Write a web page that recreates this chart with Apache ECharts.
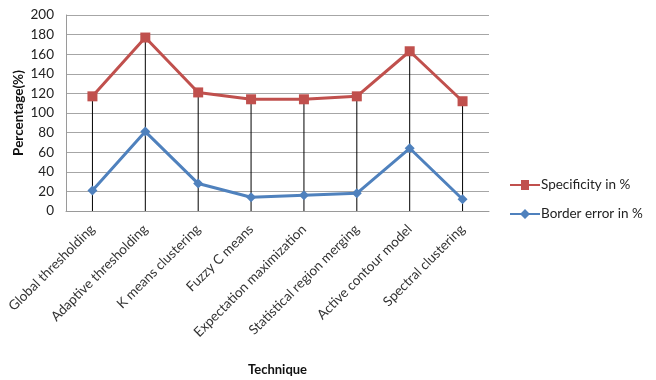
<!DOCTYPE html>
<html>
<head>
<meta charset="utf-8">
<script src="https://cdn.jsdelivr.net/npm/echarts@6/dist/echarts.min.js"></script>
<style>
  html, body { margin: 0; padding: 0; background: #fff; }
  #chart { width: 656px; height: 380px; }
</style>
</head>
<body>
<div id="chart"></div>
<script>
// Segmentation techniques compared on two measures
const techniques = [
  'Global thresholding',
  'Adaptive thresholding',
  'K means clustering',
  'Fuzzy C means',
  'Expectation maximization',
  'Statistical region merging',
  'Active contour model',
  'Spectral clustering'
];
const specificity = [117, 177, 121, 114, 114, 117, 163, 112];
const borderError = [21, 81, 28, 14, 16, 18, 64, 12];
const yTicks = [0, 20, 40, 60, 80, 100, 120, 140, 160, 180, 200];

// Drop lines run from the higher of the two series down to the axis
const dropTop = specificity.map((v, i) => Math.max(v, borderError[i]));

const font = 'Lato, "Open Sans", sans-serif';
const chart = echarts.init(document.getElementById('chart'));

chart.setOption({
  animation: false,
  textStyle: { fontFamily: font },
  grid: { left: 66, right: 167, top: 15, bottom: 169, outerBoundsMode: 'none', containLabel: false },
  legend: {
    data: [
      { name: 'Specificity in %', icon: 'path://M0,4 L30,4 L30,6 L0,6 Z M11,0 L19,0 L19,10 L11,10 Z' },
      { name: 'Border error in %', icon: 'path://M0,4 L30,4 L30,6 L0,6 Z M15,0 L20,5 L15,10 L10,5 Z' }
    ],
    orient: 'vertical',
    left: 505,
    top: 173,
    itemWidth: 30,
    itemHeight: 10,
    itemGap: 15,
    textStyle: { fontSize: 13.5, color: '#222', fontFamily: font, padding: [0, 0, 0, -4] }
  },
  xAxis: {
    type: 'category',
    data: techniques,
    boundaryGap: true,
    name: 'Technique',
    nameLocation: 'middle',
    nameGap: 152,
    nameMoveOverlap: false,
    nameTextStyle: { fontSize: 13, fontWeight: 'bold', color: '#111', fontFamily: font },
    axisLine: { lineStyle: { color: '#9a9a9a', width: 1 } },
    axisTick: { show: false },
    axisLabel: { rotate: 45, fontSize: 13.5, color: '#333', margin: 16, interval: 0, fontFamily: font }
  },
  yAxis: {
    type: 'value',
    min: yTicks[0],
    max: yTicks[yTicks.length - 1],
    interval: yTicks[1] - yTicks[0],
    name: 'Percentage(%)',
    nameLocation: 'middle',
    nameGap: 40,
    nameMoveOverlap: false,
    nameTextStyle: { fontSize: 13.5, fontWeight: 'bold', color: '#111', fontFamily: font },
    axisLine: { show: true, lineStyle: { color: '#9a9a9a', width: 1 } },
    axisTick: { show: false },
    axisLabel: { fontSize: 13.5, color: '#222', margin: 12, fontFamily: font },
    splitLine: { lineStyle: { color: '#a6a6a6', width: 1 } }
  },
  series: [
    {
      name: 'drop',
      type: 'bar',
      data: dropTop,
      barWidth: 1,
      itemStyle: { color: '#000' },
      silent: true,
      z: 1
    },
    {
      name: 'Specificity in %',
      type: 'line',
      data: specificity,
      symbol: 'rect',
      symbolSize: 10,
      lineStyle: { color: '#C0504D', width: 3 },
      itemStyle: { color: '#C0504D' },
      z: 3
    },
    {
      name: 'Border error in %',
      type: 'line',
      data: borderError,
      symbol: 'diamond',
      symbolSize: 10,
      lineStyle: { color: '#4F81BD', width: 3 },
      itemStyle: { color: '#4F81BD' },
      z: 3
    }
  ]
});
</script>
</body>
</html>
